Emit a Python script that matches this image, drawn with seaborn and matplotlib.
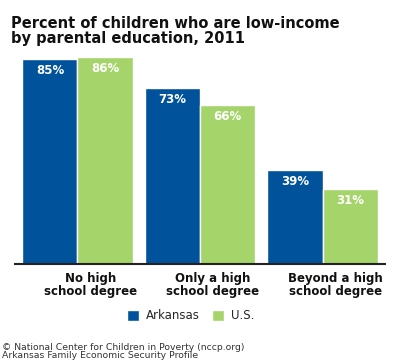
import matplotlib
matplotlib.use("Agg")
import matplotlib.pyplot as plt
import matplotlib.transforms as mtransforms
import numpy as np
import pandas as pd
import seaborn as sns

sns.set_theme(style="white")
plt.rcParams['font.family'] = ['DejaVu Sans']

categories = ["No high\nschool degree", "Only a high\nschool degree", "Beyond a high\nschool degree"]
series = ["Arkansas", "U.S."]
arkansas = [85, 73, 39]
us = [86, 66, 31]
colors = ["#00529b", "#a5d46a"]

df = pd.DataFrame({
    "education": categories * 2,
    "region": [series[0]] * 3 + [series[1]] * 3,
    "pct": arkansas + us,
})

fig = plt.figure(figsize=(4, 3.6), dpi=100)
ax = fig.add_axes([0.0375, 0.2667, 0.925, 0.67])
sns.barplot(data=df, x="education", y="pct", hue="region", palette=colors,
            saturation=1, width=0.9, edgecolor="white", linewidth=1, ax=ax, legend=True)

ax.set_xlim(-0.51, 2.51)
ax.set_ylim(0, 100)
for s in ["top", "right", "left"]:
    ax.spines[s].set_visible(False)
ax.spines["bottom"].set_color("#222222")
ax.spines["bottom"].set_linewidth(1.5)
ax.set_yticks([])
ax.set_xlabel("")
ax.set_ylabel("")
ax.tick_params(axis="x", length=0, pad=6)
shift = mtransforms.ScaledTranslation(13 / 100, 0, fig.dpi_scale_trans)
for lbl in ax.get_xticklabels():
    lbl.set_fontweight("bold")
    lbl.set_fontsize(8.5)
    lbl.set_linespacing(0.95)
    lbl.set_color("#111111")
    lbl.set_transform(lbl.get_transform() + shift)

for cont in ax.containers:
    for bar in cont:
        h = bar.get_height()
        ax.text(bar.get_x() + bar.get_width() / 2, h - 4.8, f"{h:.0f}%",
                ha="center", va="center", color="white",
                fontsize=8.5, fontweight="bold")

ax.legend(loc="center", bbox_to_anchor=(0.475, -0.215), ncol=2, frameon=False,
          fontsize=8.5, handlelength=1.0, handleheight=1.0, columnspacing=1.0,
          handletextpad=0.6)

fig.text(0.028, 0.955, "Percent of children who are low-income\nby parental education, 2011",
         fontsize=10.5, fontweight="bold", color="#111111", va="top", linespacing=1.0)
fig.text(0.005, 0.0, "\u00a9 National Center for Children in Poverty (nccp.org)\nArkansas Family Economic Security Profile",
         fontsize=6.7, color="#333333", va="bottom", linespacing=0.9)

fig.savefig("out.png", dpi=100)
